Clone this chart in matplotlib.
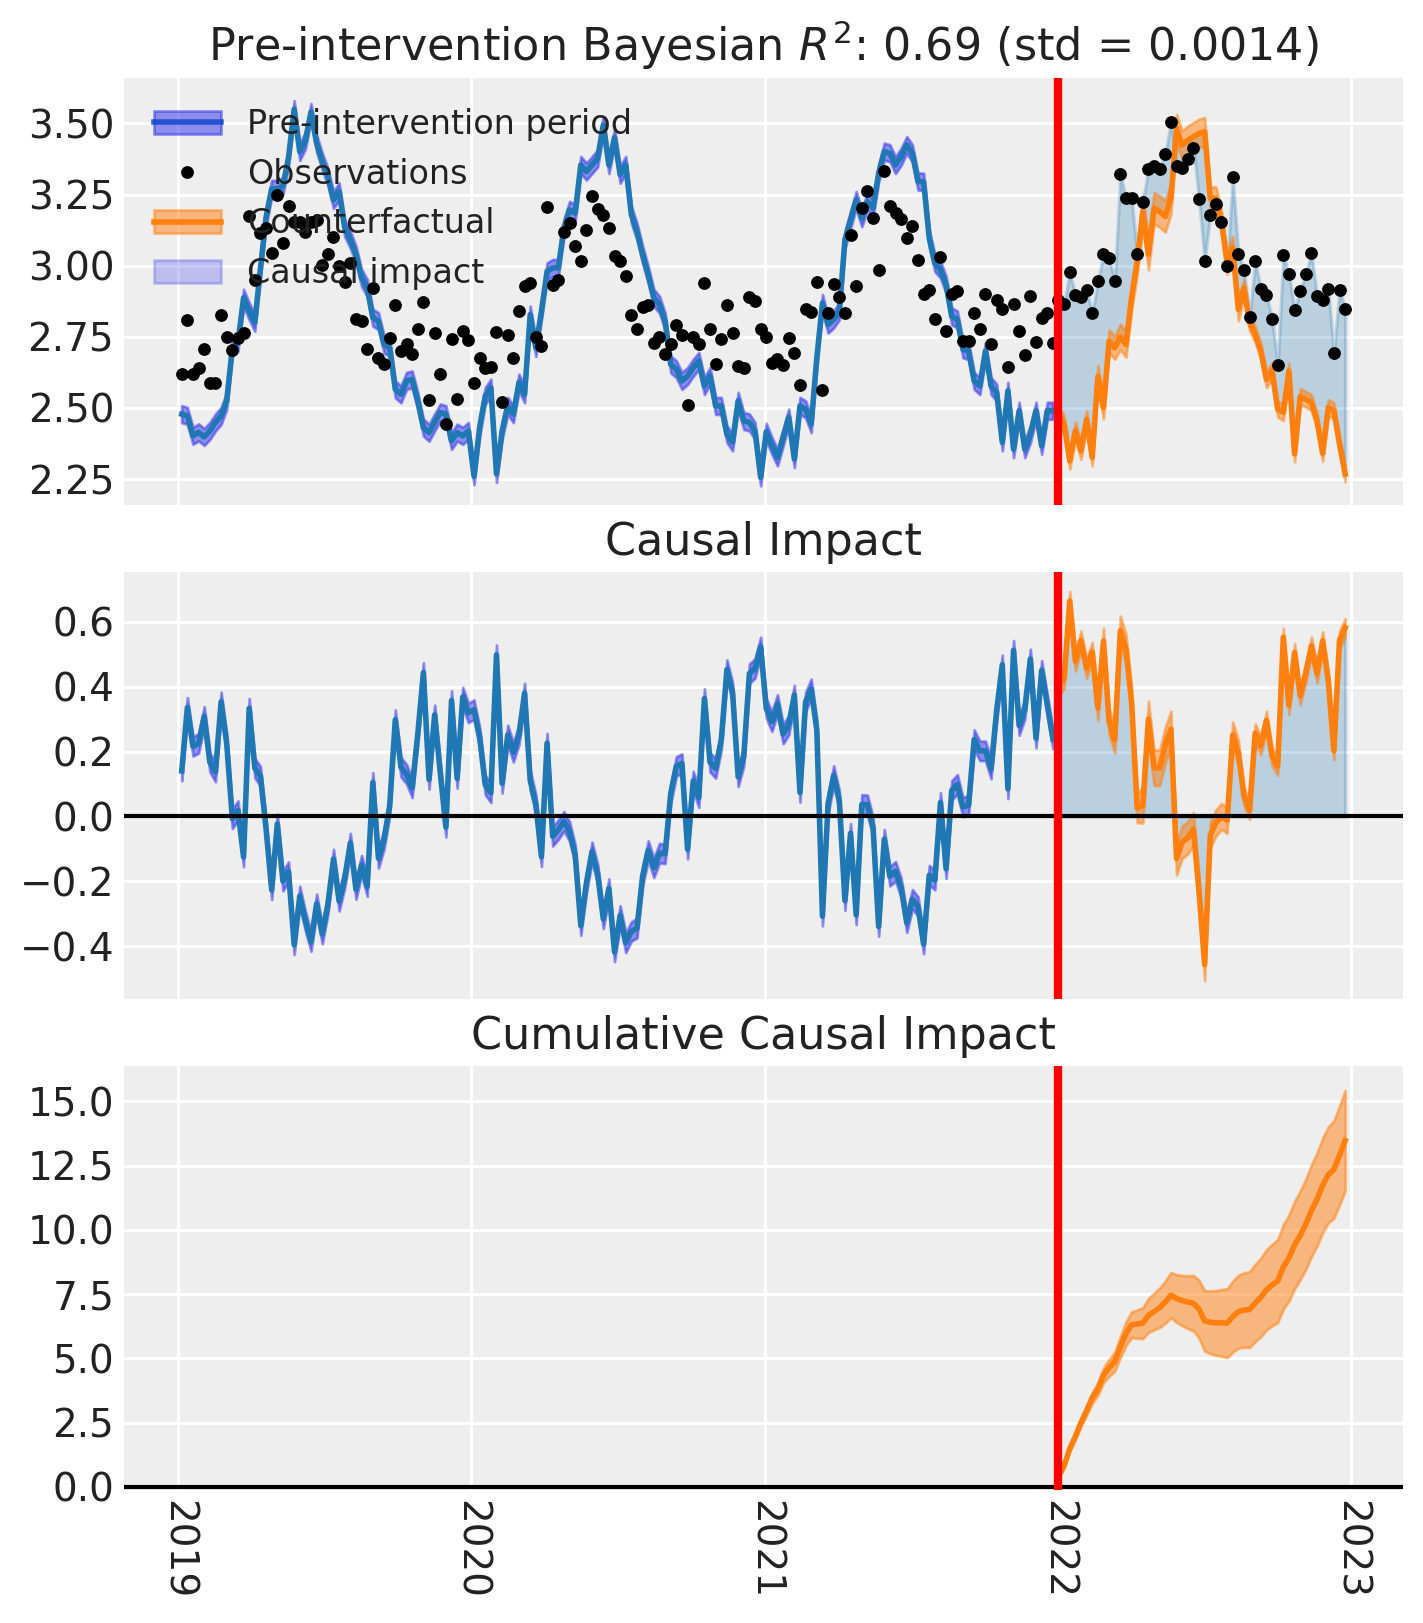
import numpy as np
import pandas as pd
import matplotlib
matplotlib.use("Agg")
import matplotlib.pyplot as plt
import matplotlib.dates as mdates
from matplotlib.ticker import MultipleLocator
from matplotlib.patches import Patch
from matplotlib.lines import Line2D

# weekly dates, intervention at start of 2022
dates = pd.date_range("2019-01-06", periods=208, freq="W")
treatment_time = pd.Timestamp("2022-01-01")
n_pre = 156

# observations
obs_pre = [
    2.618, 2.808, 2.618, 2.639, 2.706, 2.586, 2.586, 2.825, 2.749, 2.704,
    2.747, 2.762, 3.173, 2.949, 3.114, 3.132, 3.044, 3.247, 3.081, 3.210,
    3.155, 3.155, 3.118, 3.155, 3.161, 3.004, 3.042, 3.100, 3.000, 2.942,
    3.009, 2.814, 2.807, 2.706, 2.922, 2.676, 2.653, 2.744, 2.863, 2.700,
    2.725, 2.688, 2.779, 2.874, 2.527, 2.762, 2.618, 2.445, 2.741, 2.530,
    2.770, 2.738, 2.589, 2.676, 2.639, 2.644, 2.766, 2.521, 2.758, 2.676,
    2.840, 2.928, 2.939, 2.749, 2.716, 3.206, 2.931, 2.951, 3.117, 3.150,
    3.068, 3.018, 3.126, 3.245, 3.200, 3.179, 3.132, 3.033, 3.015, 2.965,
    2.825, 2.776, 2.855, 2.863, 2.729, 2.750, 2.690, 2.723, 2.790, 2.758,
    2.511, 2.750, 2.723, 2.940, 2.779, 2.655, 2.743, 2.860, 2.762, 2.647,
    2.639, 2.889, 2.875, 2.778, 2.749, 2.659, 2.671, 2.650, 2.747, 2.694,
    2.581, 2.848, 2.836, 2.942, 2.562, 2.832, 2.937, 2.890, 2.832, 3.109,
    2.928, 3.204, 3.261, 3.169, 2.986, 3.331, 3.211, 3.185, 3.164, 3.097,
    3.140, 3.019, 2.902, 2.916, 2.813, 3.029, 2.772, 2.902, 2.910, 2.735,
    2.735, 2.832, 2.779, 2.902, 2.723, 2.881, 2.846, 2.645, 2.867, 2.770,
    2.685, 2.893, 2.731, 2.817, 2.834, 2.729,
]
obs_post = [
    2.880, 2.867, 2.977, 2.898, 2.890, 2.916, 2.832, 2.945, 3.041, 3.027,
    2.947, 3.322, 3.239, 3.239, 3.041, 3.225, 3.340, 3.352, 3.340, 3.393,
    3.506, 3.352, 3.345, 3.375, 3.415, 3.234, 3.015, 3.179, 3.217, 3.155,
    2.998, 3.313, 3.042, 2.984, 2.819, 3.015, 2.918, 2.896, 2.814, 2.650,
    3.036, 2.972, 2.843, 2.912, 2.972, 3.044, 2.893, 2.881, 2.919, 2.692,
    2.916, 2.849,
]

# posterior mean of model fit (pre) and counterfactual (post)
mu_pre = [
    2.478, 2.472, 2.402, 2.414, 2.398, 2.419, 2.449, 2.472, 2.525, 2.711,
    2.729, 2.887, 2.840, 2.800, 2.990, 3.170, 3.270, 3.270, 3.280, 3.380,
    3.550, 3.400, 3.440, 3.540, 3.430, 3.366, 3.313, 3.231, 3.261, 3.132,
    3.091, 3.039, 2.957, 2.922, 2.817, 2.805, 2.723, 2.711, 2.565, 2.548,
    2.595, 2.600, 2.524, 2.431, 2.413, 2.449, 2.484, 2.478, 2.384, 2.413,
    2.402, 2.419, 2.260, 2.431, 2.542, 2.571, 2.268, 2.419, 2.507, 2.478,
    2.589, 2.548, 2.828, 2.711, 2.840, 2.980, 2.992, 2.992, 3.132, 3.196,
    3.185, 3.354, 3.331, 3.354, 3.377, 3.494, 3.354, 3.450, 3.320, 3.354,
    3.179, 3.120, 3.039, 2.968, 2.887, 2.863, 2.805, 2.653, 2.636, 2.595,
    2.612, 2.641, 2.665, 2.577, 2.612, 2.507, 2.507, 2.408, 2.379, 2.525,
    2.454, 2.449, 2.419, 2.256, 2.416, 2.367, 2.326, 2.396, 2.466, 2.320,
    2.507, 2.495, 2.443, 2.676, 2.869, 2.793, 2.811, 2.840, 3.091, 3.161,
    3.231, 3.167, 3.225, 3.202, 3.325, 3.401, 3.395, 3.354, 3.383, 3.424,
    3.395, 3.296, 3.295, 3.097, 3.009, 2.986, 2.933, 2.822, 2.811, 2.706,
    2.700, 2.595, 2.577, 2.700, 2.577, 2.554, 2.379, 2.560, 2.355, 2.490,
    2.355, 2.408, 2.490, 2.367, 2.490, 2.490,
]
mu_post = [
    2.478, 2.443, 2.314, 2.420, 2.349, 2.460, 2.326, 2.610, 2.501, 2.735,
    2.711, 2.750, 2.723, 2.887, 3.015, 3.190, 3.040, 3.202, 3.190, 3.173,
    3.237, 3.482, 3.424, 3.441, 3.453, 3.465, 3.471, 3.237, 3.237, 3.155,
    3.010, 3.062, 2.846, 2.922, 2.800, 2.758, 2.700, 2.600, 2.630, 2.495,
    2.484, 2.630, 2.338, 2.540, 2.530, 2.519, 2.454, 2.340, 2.501, 2.490,
    2.373, 2.268,
]

# HDI half widths
hdi_pre = 0.03
hdi_post = [0.03] * 7 + [0.04] * 4 + [0.045] * 4 + [0.055] * 6 + [0.05] * 6 + [0.04] * 6 + [0.028] * 19

r2_text = "Pre-intervention Bayesian $R^2$: 0.69 (std = 0.0014)"

obs_pre = np.array(obs_pre)
obs_post = np.array(obs_post)
mu_pre = np.array(mu_pre)
mu_post = np.array(mu_post)
hdi_post = np.array(hdi_post)
d_pre = dates[:n_pre]
d_post = dates[n_pre:]

impact_pre = obs_pre - mu_pre
impact_post = obs_post - mu_post
cum_post = np.cumsum(impact_post)
cum_hdi = np.cumsum(hdi_post)

C_LINE = "#1f77b4"
C_BAND = "#2a2eec"
C_ORANGE = "#ff7f0e"
BG = "#eeeeee"

plt.rcParams.update({
    "font.family": "DejaVu Sans",
    "axes.facecolor": BG,
    "axes.edgecolor": BG,
    "axes.grid": True,
    "grid.color": "white",
    "grid.linewidth": 1.1,
    "xtick.major.size": 0,
    "ytick.major.size": 0,
    "xtick.labelsize": 14,
    "ytick.labelsize": 14,
    "text.color": "#222222",
    "xtick.color": "#222222",
    "ytick.color": "#222222",
})

fig = plt.figure(figsize=(7.115, 8.115), dpi=200)
ax1 = fig.add_axes([0.0871, 0.6889, 0.8988, 0.2631])
ax2 = fig.add_axes([0.0871, 0.3845, 0.8988, 0.2631], sharex=ax1)
ax3 = fig.add_axes([0.0871, 0.0819, 0.8988, 0.2612], sharex=ax1)
for ax in (ax1, ax2, ax3):
    ax.set_axisbelow(True)
    for s in ax.spines.values():
        s.set_visible(False)

# --- top: fit + counterfactual
ax1.fill_between(d_post, mu_post, obs_post, color=C_LINE, alpha=0.25, lw=1.2)
ax1.fill_between(d_pre, mu_pre - hdi_pre, mu_pre + hdi_pre, color=C_BAND, alpha=0.5, lw=1)
ax1.plot(d_pre, mu_pre, color=C_LINE, lw=2)
ax1.fill_between(d_post, mu_post - hdi_post, mu_post + hdi_post, color=C_ORANGE, alpha=0.5, lw=1)
ax1.plot(d_post, mu_post, color=C_ORANGE, lw=2)
ax1.plot(dates, np.concatenate([obs_pre, obs_post]), "o", color="k", ms=3.6, zorder=4)
ax1.axvline(treatment_time, color="red", lw=3, zorder=5)
ax1.set_ylim(2.159, 3.66)
ax1.yaxis.set_major_locator(MultipleLocator(0.25))
ax1.set_title(r2_text, fontsize=16)

h_pre = (Line2D([], [], color=C_LINE, lw=2), Patch(facecolor=C_BAND, edgecolor=C_BAND, alpha=0.5))
h_obs = Line2D([], [], ls="", marker="o", color="k", ms=3.6)
h_cf = (Line2D([], [], color=C_ORANGE, lw=2), Patch(facecolor=C_ORANGE, edgecolor=C_ORANGE, alpha=0.5))
h_ci = Patch(facecolor=C_BAND, edgecolor=C_BAND, alpha=0.25)
ax1.legend([h_pre, h_obs, h_cf, h_ci],
           ["Pre-intervention period", "Observations", "Counterfactual", "Causal impact"],
           loc="upper left", fontsize=12, frameon=False)

# --- middle: causal impact
ax2.fill_between(d_pre, impact_pre - hdi_pre, impact_pre + hdi_pre, color=C_BAND, alpha=0.5, lw=1)
ax2.plot(d_pre, impact_pre, color=C_LINE, lw=2)
ax2.fill_between(d_post, 0, impact_post, color=C_LINE, alpha=0.25, lw=1.2)
ax2.fill_between(d_post, impact_post - hdi_post, impact_post + hdi_post, color=C_ORANGE, alpha=0.5, lw=1)
ax2.plot(d_post, impact_post, color=C_ORANGE, lw=2)
ax2.axhline(0, color="k", lw=1.5)
ax2.axvline(treatment_time, color="red", lw=3, zorder=5)
ax2.set_ylim(-0.562, 0.753)
ax2.yaxis.set_major_locator(MultipleLocator(0.2))
ax2.set_title("Causal Impact", fontsize=16)

# --- bottom: cumulative impact
ax3.fill_between(d_post, cum_post - cum_hdi, cum_post + cum_hdi, color=C_ORANGE, alpha=0.5, lw=1)
ax3.plot(d_post, cum_post, color=C_ORANGE, lw=2)
ax3.axhline(0, color="k", lw=1.5)
ax3.axvline(treatment_time, color="red", lw=3, zorder=5)
ax3.set_ylim(-0.12, 16.37)
ax3.yaxis.set_major_locator(MultipleLocator(2.5))
ax3.set_title("Cumulative Causal Impact", fontsize=16)

ax3.set_xlim(dates[0] - pd.Timedelta(days=72), dates[-1] + pd.Timedelta(days=72))
ax3.xaxis.set_major_locator(mdates.YearLocator())
ax3.xaxis.set_major_formatter(mdates.DateFormatter("%Y"))
plt.setp(ax1.get_xticklabels(), visible=False)
plt.setp(ax2.get_xticklabels(), visible=False)
plt.setp(ax3.get_xticklabels(), rotation=-90)

fig.savefig("out.png", dpi=200)
